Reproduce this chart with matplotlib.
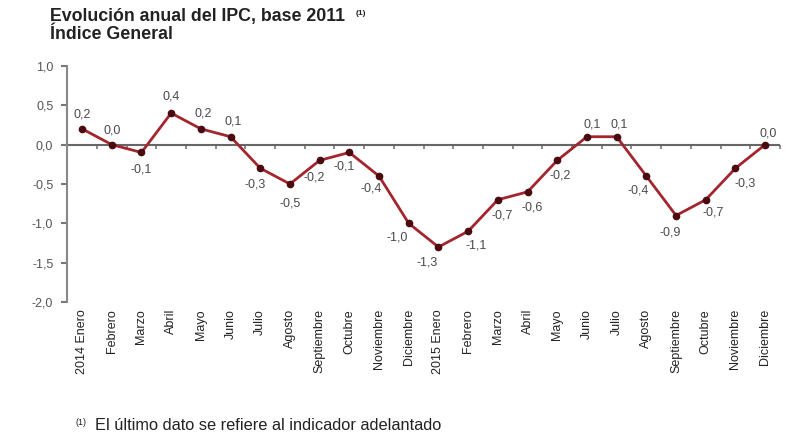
import matplotlib
matplotlib.use("Agg")
import matplotlib.pyplot as plt

plt.rcParams['font.family'] = ['Liberation Sans', 'DejaVu Sans']

meses = ["2014 Enero", "Febrero", "Marzo", "Abril", "Mayo", "Junio", "Julio",
         "Agosto", "Septiembre", "Octubre", "Noviembre", "Diciembre",
         "2015 Enero", "Febrero", "Marzo", "Abril", "Mayo", "Junio", "Julio",
         "Agosto", "Septiembre", "Octubre", "Noviembre", "Diciembre"]
ipc = [0.2, 0.0, -0.1, 0.4, 0.2, 0.1, -0.3, -0.5, -0.2, -0.1, -0.4, -1.0,
       -1.3, -1.1, -0.7, -0.6, -0.2, 0.1, 0.1, -0.4, -0.9, -0.7, -0.3, 0.0]
yticks = [1.0, 0.5, 0.0, -0.5, -1.0, -1.5, -2.0]

# label offsets in points (dx, dy)
offs = [(0, 10), (0, 10), (0, -12), (0, 12), (2, 11), (2, 11), (-4, -12), (0, -14),
        (-4, -12), (-4, -10), (-6, -9), (-8, -10),
        (-8, -11), (6, -10), (3, -11), (3, -11), (2, -11), (4, 9), (2, 9),
        (-6, -10), (-4, -12), (5, -9), (7, -11), (2, 8)]

fig = plt.figure(figsize=(8, 4.36), dpi=100)
ax = fig.add_axes([0.084, 0.307, 0.891, 0.542])

x = list(range(len(ipc)))
ax.plot(x, ipc, color='#a3262e', lw=2, marker='o', ms=4.5,
        mfc='#4a0a10', mec='#4a0a10', zorder=3)

for i, v in enumerate(ipc):
    ax.annotate(f"{v:.1f}".replace('.', ','), (i, v), xytext=offs[i],
                textcoords='offset points', ha='center', va='center',
                fontsize=9, color='#4a4a4a')

ax.set_xlim(-0.5, len(ipc) - 0.5)
ax.set_ylim(-2.0, 1.0)
ax.set_yticks(yticks)
ax.set_yticklabels([f"{t:.1f}".replace('.', ',') for t in yticks])
ax.tick_params(axis='y', colors='#777777', labelcolor='#555555', labelsize=9,
               length=4, width=1.5, pad=6)
ax.set_xticks(x)
ax.set_xticklabels(meses, rotation=90, fontsize=9, color='#222222')
ax.tick_params(axis='x', length=0, pad=5)

for s in ['top', 'right', 'bottom']:
    ax.spines[s].set_visible(False)
ax.spines['left'].set_color('#888888')
ax.spines['left'].set_linewidth(1.5)

# zero line with ticks between categories
ax.axhline(0, color='#666666', lw=1.5, zorder=2)
sec = ax.secondary_xaxis(2 / 3)
sec.set_xticks([k + 0.5 for k in range(len(ipc))])
sec.tick_params(axis='x', direction='out', length=3, width=1.2,
                colors='#777777', labelbottom=False, labeltop=False,
                bottom=True, top=False)
sec.spines['bottom'].set_visible(False)
sec.spines['top'].set_visible(False)

fig.text(0.062, 0.963, "Evolución anual del IPC, base 2011", fontsize=12.8,
         fontweight='bold', color='#222222', va='center')
fig.text(0.445, 0.970, "(1)", fontsize=6, fontweight='bold', color='#222222',
         va='center')
fig.text(0.062, 0.922, "Índice General", fontsize=12.8, fontweight='bold',
         color='#222222', va='center')

fig.text(0.094, 0.030, "(1)", fontsize=6.5, color='#222222', va='center')
fig.text(0.119, 0.025, "El último dato se refiere al indicador adelantado",
         fontsize=11.8, color='#222222', va='center')

fig.savefig("out.png", dpi=100, facecolor='white')
